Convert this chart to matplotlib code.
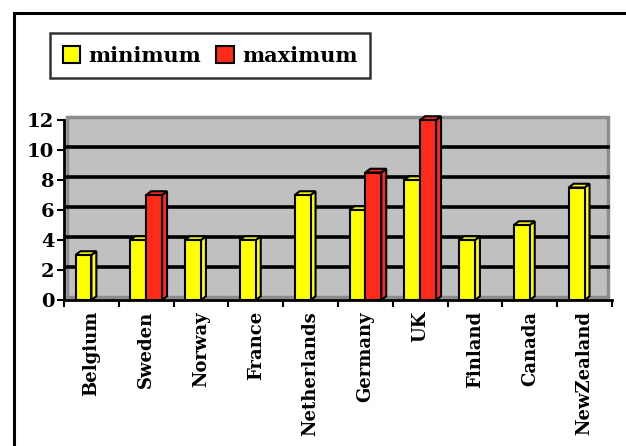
import numpy as np
import matplotlib
matplotlib.use('Agg')
import matplotlib.pyplot as plt
from matplotlib.patches import Rectangle, Polygon
from matplotlib.lines import Line2D
import matplotlib.transforms as mtransforms

# ── Data ──────────────────────────────────────────────────────────────────────
countries = ['Belgium', 'Sweden', 'Norway', 'France', 'Netherlands',
             'Germany', 'UK', 'Finland', 'Canada', 'NewZealand']
minimum = [3, 4, 4, 4, 7, 6, 8, 4, 5, 7.5]
maximum = [0, 7, 0, 0, 0, 8.5, 12, 0, 0, 0]
yticks = [0, 2, 4, 6, 8, 10, 12]

YELLOW = '#ffff00'
RED = '#ff2a1a'
WALL = '#c0c0c0'
FONT = dict(family='DejaVu Serif', weight='bold')

fig = plt.figure(figsize=(6.26, 4.46), dpi=100, facecolor='white')
ax = fig.add_axes([64/626, 1 - 300/446, (612-64)/626, 180/446])
ax.set_xlim(0, len(countries))
ax.set_ylim(0, 12)
ax.set_facecolor('none')

# back wall, shifted a few pixels (fake 3-D depth)
wall_off = mtransforms.ScaledTranslation(3/100, 3/100, fig.dpi_scale_trans)
wall_w = 1 - 7/548
ax.add_patch(Rectangle((0, 0), wall_w, 1, transform=ax.transAxes + wall_off,
                       facecolor=WALL, edgecolor='#8c8c8c', lw=2.5, zorder=0,
                       clip_on=False))
# left side wall strip
ax.add_patch(Polygon([(0, 0), (3/548, 3/180), (3/548, 1 + 3/180), (0, 1)],
                     closed=True, transform=ax.transAxes, facecolor='#a0a0a0',
                     edgecolor='none', zorder=0, clip_on=False))
for yv in yticks[1:-1]:
    ax.plot([0, wall_w], [yv, yv], color='black', lw=2.6, zorder=1,
            transform=ax.get_yaxis_transform() + wall_off, clip_on=False)

# bars with a drawn side and top face
w = 0.29
dx, dy = 0.09, 0.25
x = np.arange(len(countries)) + 0.5

def bar3d(xl, v, color):
    ax.add_patch(Rectangle((xl, 0), w, v, facecolor=color, edgecolor='black',
                           lw=1.5, zorder=4, clip_on=False))
    ax.add_patch(Polygon([(xl + w, 0), (xl + w + dx, dy), (xl + w + dx, v + dy),
                          (xl + w, v)], closed=True, facecolor=color,
                         edgecolor='black', lw=1.5, zorder=3, clip_on=False))
    ax.add_patch(Polygon([(xl, v), (xl + dx, v + dy), (xl + w + dx, v + dy),
                          (xl + w, v)], closed=True, facecolor=color,
                         edgecolor='black', lw=1.5, zorder=3, clip_on=False))

for xi, lo, hi in zip(x, minimum, maximum):
    if lo > 0:
        bar3d(xi - w, lo, YELLOW)
    if hi > 0:
        bar3d(xi, hi, RED)

# axes styling
for s in ['top', 'right']:
    ax.spines[s].set_visible(False)
for s in ['left', 'bottom']:
    ax.spines[s].set_linewidth(2)
    ax.spines[s].set_zorder(5)
ax.set_yticks(yticks)
ax.set_yticklabels([str(t) for t in yticks], fontsize=14, **FONT)
ax.set_xticks(np.arange(len(countries) + 1))
ax.set_xticklabels([])
ax.set_xticks(x, minor=True)
ax.set_xticklabels(countries, minor=True, rotation=90, fontsize=13,
                   va='top', **FONT)
ax.tick_params(axis='x', which='major', length=5, width=1.5, direction='out')
ax.tick_params(axis='x', which='minor', length=0, pad=8)
ax.tick_params(axis='y', length=5, width=1.5, direction='out', pad=2)

# legend
handles = [Rectangle((0, 0), 1, 1, facecolor=YELLOW, edgecolor='black', lw=1.5),
           Rectangle((0, 0), 1, 1, facecolor=RED, edgecolor='black', lw=1.5)]
leg = fig.legend(handles, ['minimum', 'maximum'], loc='upper left',
                 bbox_to_anchor=(50/626, 1 - 33/446), ncol=2, frameon=True,
                 fancybox=False, prop=dict(size=15, **FONT), handlelength=0.85,
                 handleheight=0.85, handletextpad=0.4, columnspacing=0.7,
                 borderpad=0.6, borderaxespad=0)
leg.get_frame().set_edgecolor('black')
leg.get_frame().set_linewidth(1.8)

# outer frame (top and left edges visible)
fig.add_artist(Line2D([14/626, 1], [1 - 13/446, 1 - 13/446], color='black',
                      lw=2.2, transform=fig.transFigure))
fig.add_artist(Line2D([14/626, 14/626], [0, 1 - 13/446], color='black',
                      lw=2.2, transform=fig.transFigure))

fig.savefig('out.png', dpi=100, facecolor='white')
